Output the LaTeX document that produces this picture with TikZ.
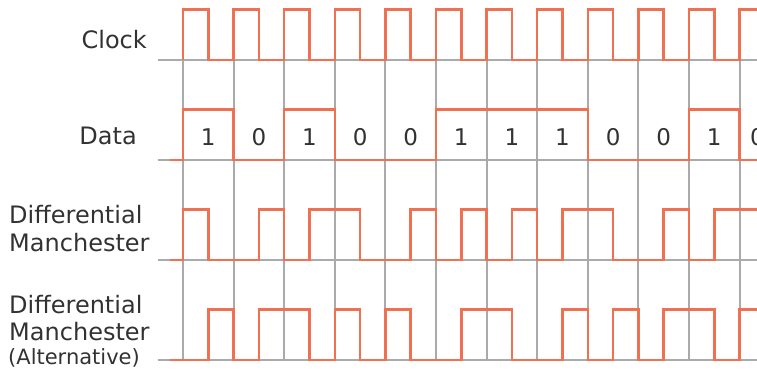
\documentclass[tikz,border=0pt]{standalone}
\usepackage{fontspec}
\setmainfont{DejaVu Sans}
\definecolor{sig}{RGB}{240,112,82}
\definecolor{gridc}{RGB}{170,170,170}
\definecolor{txt}{RGB}{50,50,50}

\begin{document}
\begin{tikzpicture}[x=1pt, y=-1pt,
  wave/.style={draw=sig, line width=2.5pt},
  gridline/.style={draw=gridc, line width=2pt},
  lbl/.style={text=txt, inner sep=0pt, font=\fontsize{24}{29}\selectfont},
  small/.style={text=txt, inner sep=0pt, font=\fontsize{21}{25}\selectfont},
  bit/.style={text=txt, inner sep=0pt, anchor=base, font=\fontsize{23}{27}\selectfont}]
\useasboundingbox (0,0) rectangle (757,374);
\clip (0,0) rectangle (757,374);

% row labels
\node[lbl, anchor=base east] (clock) at (147,49) {Clock};
\node[lbl, anchor=base east] (data) at (137,145) {Data};
\node[lbl, anchor=base west] (dm1) at (9,223) {Differential};
\node[lbl, anchor=base west] (dm2) at (9,251) {Manchester};
\node[lbl, anchor=base west] (dma1) at (9,313) {Differential};
\node[lbl, anchor=base west] (dma2) at (9,340) {Manchester};
\node[small, anchor=base west] (dma3) at (8,364) {(Alternative)};

\begin{scope}[xshift=183pt, x=25.3pt]
% grid
\foreach \b in {60,160,260,360}
  \draw[gridline] (-1,\b) -- (23,\b);
\foreach \k in {0,2,...,22}
  \draw[gridline] (\k,60) -- (\k,360);

% clock
\draw[wave] (0,60) \foreach \k in {0,2,...,22} { -- (\k,60) -- (\k,9.5) -- (\k+1,9.5) -- (\k+1,60) -- (\k+2,60) };

% data
\draw[wave] (-0.5,160) -- (0,160) \foreach \d [count=\n from 0] in {1,0,1,0,0,1,1,1,0,0,1,0} { -- (2*\n,160-50.5*\d) -- (2*\n+2,160-50.5*\d) };
\foreach \d [count=\n from 0] in {1,0,1,0,0,1,1,1,0,0,1}
  \node[bit] (b\n) at (2*\n+1,146) {\d};
\node[bit] (b11) at (22.7,146) {0};

% differential manchester
\draw[wave] (-0.5,260) -- (0,260) \foreach \v [count=\n from 0] in {1,0,0,1,0,1,1,0,0,1,0,1,0,1,0,1,1,0,0,1,0,1,1} { -- (\n,260-50.5*\v) -- (\n+1,260-50.5*\v) };

% alternative
\draw[wave] (-0.5,360) -- (0,360) \foreach \v [count=\n from 0] in {0,1,0,1,1,0,1,0,1,0,0,1,1,0,0,1,0,1,0,1,1,0,1} { -- (\n,360-50.5*\v) -- (\n+1,360-50.5*\v) };
\end{scope}
\end{tikzpicture}
\end{document}
